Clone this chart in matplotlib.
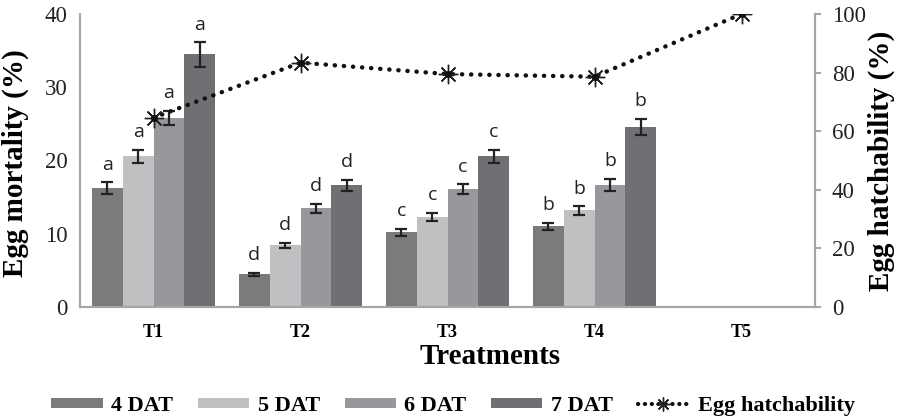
import matplotlib
matplotlib.use("Agg")
import matplotlib.pyplot as plt
import numpy as np
from matplotlib.lines import Line2D
from matplotlib.patches import Patch

treatments = ["T1", "T2", "T3", "T4", "T5"]
series_names = ["4 DAT", "5 DAT", "6 DAT", "7 DAT"]
mort_4dat = [16.2, 4.5, 10.2, 11.0, 0.0]
mort_5dat = [20.6, 8.4, 12.3, 13.2, 0.0]
mort_6dat = [25.8, 13.5, 16.1, 16.7, 0.0]
mort_7dat = [34.5, 16.6, 20.6, 24.6, 0.0]
err_4dat = [0.8, 0.2, 0.5, 0.5, 0.0]
err_5dat = [0.9, 0.4, 0.6, 0.6, 0.0]
err_6dat = [1.0, 0.6, 0.7, 0.8, 0.0]
err_7dat = [1.7, 0.8, 0.9, 1.1, 0.0]
letters = ["a", "d", "c", "b", ""]
hatchability = [64.6, 83.4, 79.5, 78.6, 100.0]

colors = ["#7b7b7e", "#c0c0c2", "#97989b", "#707074"]
serif = ["Liberation Serif", "DejaVu Serif"]

fig = plt.figure(figsize=(8.98, 4.2), dpi=100)
ax = fig.add_axes([80/898, 1-307/420, (815-80)/898, (307-14)/420])
ax2 = ax.twinx()

x = np.arange(len(treatments))
bw = 0.21
means = [mort_4dat, mort_5dat, mort_6dat, mort_7dat]
errs = [err_4dat, err_5dat, err_6dat, err_7dat]
for i, (m, e, c) in enumerate(zip(means, errs, colors)):
    pos = x + (i - 1.5) * bw
    ax.bar(pos, m, width=bw, color=c, zorder=2)
    for j in range(len(treatments)):
        if m[j] > 0:
            ax.errorbar(pos[j], m[j], yerr=e[j], fmt='none', ecolor='#222222',
                        elinewidth=1.6, capsize=4, capthick=1.6, zorder=3)
            ax.annotate(letters[j], (pos[j], m[j] + e[j]), xytext=(0, 6),
                        textcoords='offset points', ha='center', va='bottom',
                        fontsize=14, family=["Open Sans", "DejaVu Sans"], color='#222222')

ax.set_xlim(-0.5, 4.5)
ax.set_ylim(0, 40)
ax.set_yticks([0, 10, 20, 30, 40])
ax2.set_ylim(0, 100)
ax2.set_yticks([0, 20, 40, 60, 80, 100])

ax2.plot(x, hatchability, color='#111111', linestyle=(0, (0.05, 2.0)),
         dash_capstyle='round', linewidth=3.2, zorder=4)
ax2.plot(x, hatchability, linestyle='none', marker=(8, 2, 0), markersize=14,
         markeredgecolor='#222222', markeredgewidth=1.0, zorder=5)
ax2.plot(x, hatchability, linestyle='none', marker='o', markersize=4,
         color='#111111', zorder=6)

for a in (ax, ax2):
    a.spines['top'].set_visible(False)
    for s in ['left', 'right', 'bottom']:
        a.spines[s].set_color('#a6a6a6')
        a.spines[s].set_linewidth(1.5)

ax.tick_params(axis='y', length=0, pad=9, labelsize=16.5, labelcolor='#222222')
ax.tick_params(axis='x', length=0, pad=12)
ax2.tick_params(axis='y', length=4, width=1.5, color='#a6a6a6', pad=8,
                labelsize=16.5, labelcolor='#222222')
for lab in ax.get_yticklabels() + ax2.get_yticklabels():
    lab.set_family(serif)
ax.set_xticks(x)
ax.set_xticklabels(treatments, fontsize=13, fontweight='bold', family=serif)

ax.set_ylabel("Egg mortality (%)", fontsize=21, fontweight='bold', family=serif)
ax2.set_ylabel("Egg hatchability (%)", fontsize=21, fontweight='bold', family=serif)
ax.yaxis.set_label_coords(-0.069, 0.49)
ax2.yaxis.set_label_coords(1.072, 0.498)
fig.text(490/898, 1-357/420, "Treatments", ha='center', va='center',
         fontsize=21, fontweight='bold', family=serif)

handles = [Patch(facecolor=c, edgecolor='none') for c in colors]
handles.append(Line2D([0], [0], color='#111111', linestyle=(0, (0.05, 1.6)), dash_capstyle='round',
                      linewidth=3, marker=(8, 2, 0), markersize=10, markeredgecolor='#222222'))
leg = fig.legend(handles, series_names + ["Egg hatchability"], loc='center',
                 bbox_to_anchor=(453/898, 1-406/420), ncol=5, frameon=False,
                 prop={'family': serif, 'weight': 'bold', 'size': 16},
                 handlelength=2.3, handleheight=0.33, columnspacing=1.1, handletextpad=0.4)

fig.savefig("out.png", dpi=100)
